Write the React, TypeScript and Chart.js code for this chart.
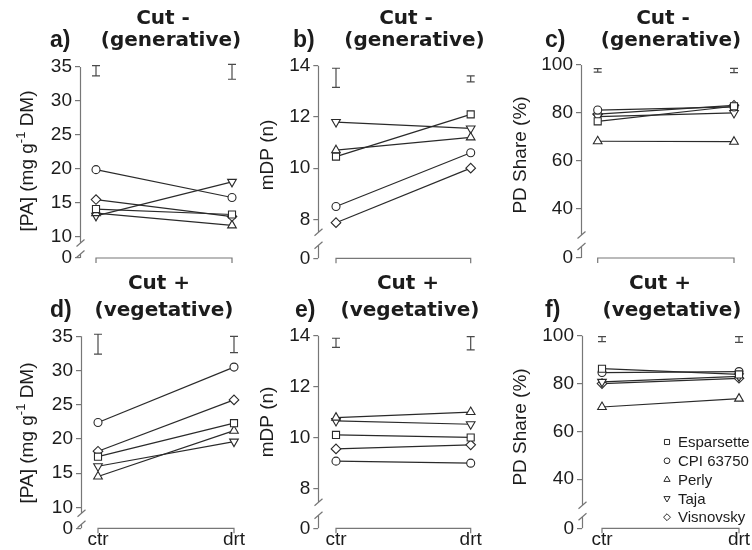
import React, { useEffect, useRef } from 'react';
import { Chart, registerables, PointElement } from 'chart.js';

Chart.register(...registerables);

// ---------------- data ----------------
const CULTIVARS = ['Esparsette', 'CPI 63750', 'Perly', 'Taja', 'Visnovsky'];
const TREATMENTS = ['ctr', 'drt'];

// a) [PA], Cut - (generative)
const PA_GEN_CTR = [14.1, 19.9, 13.5, 13.1, 15.5];
const PA_GEN_DRT = [13.3, 15.8, 11.7, 18.1, 13.0];
const PA_GEN_ERR_LO = [33.7, 33.2];
const PA_GEN_ERR_HI = [35.2, 35.4];
// b) mDP, Cut - (generative)
const MDP_GEN_CTR = [10.45, 8.5, 10.7, 11.8, 7.87];
const MDP_GEN_DRT = [12.1, 10.6, 11.2, 11.55, 10.0];
const MDP_GEN_ERR_LO = [13.15, 13.37];
const MDP_GEN_ERR_HI = [13.9, 13.6];
// c) PD share, Cut - (generative)
const PD_GEN_CTR = [76.5, 81.2, 68.2, 78.5, 79.5];
const PD_GEN_DRT = [82.8, 82.5, 68.0, 80.0, 83.2];
const PD_GEN_ERR_LO = [97.0, 96.8];
const PD_GEN_ERR_HI = [98.5, 98.6];
// d) [PA], Cut + (vegetative)
const PA_VEG_CTR = [17.4, 22.4, 14.5, 16.0, 18.2];
const PA_VEG_DRT = [22.3, 30.5, 21.2, 19.6, 25.7];
const PA_VEG_ERR_LO = [32.4, 32.6];
const PA_VEG_ERR_HI = [35.3, 35.0];
// e) mDP, Cut + (vegetative)
const MDP_VEG_CTR = [10.1, 9.07, 10.78, 10.65, 9.55];
const MDP_VEG_DRT = [10.0, 8.99, 11.0, 10.52, 9.71];
const MDP_VEG_ERR_LO = [13.54, 13.44];
const MDP_VEG_ERR_HI = [13.9, 13.96];
// f) PD share, Cut + (vegetative)
const PD_VEG_CTR = [86.2, 84.6, 70.2, 80.7, 80.0];
const PD_VEG_DRT = [83.8, 85.0, 73.7, 83.0, 82.2];
const PD_VEG_ERR_LO = [97.5, 97.2];
const PD_VEG_ERR_HI = [99.6, 99.6];

const PA_TICKS = [10, 15, 20, 25, 30, 35];
const MDP_TICKS = [8, 10, 12, 14];
const PD_TICKS = [40, 60, 80, 100];
const BREAK_LABEL = '0';

const Y_TITLE_PA = ['[PA] (mg g', '-1', ' DM)'];
const Y_TITLE_MDP = ['mDP (n)'];
const Y_TITLE_PD = ['PD Share (%)'];

// ---------------- styles ----------------
const AXIS = '#777777';
const LINE = '#2a2a2a';
const ERR = '#4a4a4a';
const TEXT = '#1c1c1c';
const SANS = "'Liberation Sans', Arial, sans-serif";
const TITLE_FONT = "bold 20px 'DejaVu Sans', Verdana, sans-serif";
const LETTER_FONT = `bold 23px ${SANS}`;
const CANVAS_W = 272;
const CANVAS_H = 280;

const MARKERS = [
  { style: 'rect', radius: 5, rotation: 0 },
  { style: 'circle', radius: 4, rotation: 0 },
  { style: 'triangle', radius: 5, rotation: 0 },
  { style: 'triangle', radius: 5, rotation: 180 },
  { style: 'rectRot', radius: 4.8, rotation: 0 },
];

type Panel = {
  key: string; letter: string; t1: string; t2: string; yTitle: string[];
  ticks: number[]; axisMin: number; ctr: number[]; drt: number[]; lo: number[]; hi: number[];
  left: number; top: number; axisX: number; ctrX: number; drtX: number; topY: number; botY: number;
  gaps: number[]; showX: boolean; yTitleX: number; yTitleY: number;
  t1X: number; t2X: number; t1Y: number; t2Y: number; letterX: number; legend: boolean;
};

const PANELS: Panel[] = [
  { key: 'a', letter: 'a)', t1: 'Cut -', t2: '(generative)', yTitle: Y_TITLE_PA, ticks: PA_TICKS, axisMin: 6.9,
    ctr: PA_GEN_CTR, drt: PA_GEN_DRT, lo: PA_GEN_ERR_LO, hi: PA_GEN_ERR_HI,
    left: 0, top: 0, axisX: 80, ctrX: 96, drtX: 232, topY: 67, botY: 258, gaps: [15, 4], showX: false,
    yTitleX: 27.5, yTitleY: 161, t1X: 163, t2X: 171, t1Y: 19, t2Y: 41, letterX: 50, legend: false },
  { key: 'b', letter: 'b)', t1: 'Cut -', t2: '(generative)', yTitle: Y_TITLE_MDP, ticks: MDP_TICKS, axisMin: 6.48,
    ctr: MDP_GEN_CTR, drt: MDP_GEN_DRT, lo: MDP_GEN_ERR_LO, hi: MDP_GEN_ERR_HI,
    left: 250, top: 0, axisX: 68.3, ctrX: 86, drtX: 220.7, topY: 65.7, botY: 258.3, gaps: [26, 13], showX: false,
    yTitleX: 17.5, yTitleY: 155, t1X: 156, t2X: 164.5, t1Y: 19, t2Y: 41, letterX: 43, legend: false },
  { key: 'c', letter: 'c)', t1: 'Cut -', t2: '(generative)', yTitle: Y_TITLE_PD, ticks: PD_TICKS, axisMin: 19.5,
    ctr: PD_GEN_CTR, drt: PD_GEN_DRT, lo: PD_GEN_ERR_LO, hi: PD_GEN_ERR_HI,
    left: 500, top: 0, axisX: 81, ctrX: 97.7, drtX: 234, topY: 65, botY: 258, gaps: [23, 11.5], showX: false,
    yTitleX: 20.5, yTitleY: 155, t1X: 163, t2X: 171, t1Y: 19, t2Y: 41, letterX: 45, legend: false },
  { key: 'd', letter: 'd)', t1: 'Cut +', t2: '(vegetative)', yTitle: Y_TITLE_PA, ticks: PA_TICKS, axisMin: 6.93,
    ctr: PA_VEG_CTR, drt: PA_VEG_DRT, lo: PA_VEG_ERR_LO, hi: PA_VEG_ERR_HI,
    left: 0, top: 270, axisX: 81, ctrX: 98, drtX: 234, topY: 66.3, botY: 258.3, gaps: [15, 4], showX: true,
    yTitleX: 27.5, yTitleY: 163, t1X: 159, t2X: 164, t1Y: 14, t2Y: 41, letterX: 50, legend: false },
  { key: 'e', letter: 'e)', t1: 'Cut +', t2: '(vegetative)', yTitle: Y_TITLE_MDP, ticks: MDP_TICKS, axisMin: 6.43,
    ctr: MDP_VEG_CTR, drt: MDP_VEG_DRT, lo: MDP_VEG_ERR_LO, hi: MDP_VEG_ERR_HI,
    left: 250, top: 270, axisX: 68.3, ctrX: 86, drtX: 220.7, topY: 65.7, botY: 258.3, gaps: [26, 13], showX: true,
    yTitleX: 17.5, yTitleY: 152, t1X: 158, t2X: 160, t1Y: 14, t2Y: 41, letterX: 45, legend: false },
  { key: 'f', letter: 'f)', t1: 'Cut +', t2: '(vegetative)', yTitle: Y_TITLE_PD, ticks: PD_TICKS, axisMin: 19.5,
    ctr: PD_VEG_CTR, drt: PD_VEG_DRT, lo: PD_VEG_ERR_LO, hi: PD_VEG_ERR_HI,
    left: 500, top: 270, axisX: 82, ctrX: 102, drtX: 239, topY: 65.7, botY: 258.3, gaps: [23, 11.5], showX: true,
    yTitleX: 20.5, yTitleY: 157, t1X: 160, t2X: 172, t1Y: 14, t2Y: 41, letterX: 45, legend: true },
];

const LEG_X = 167;
const LEG_Y0 = 172;
const LEG_DY = 18.8;

function makeDecor(p: Panel) {
  return {
    id: 'decor' + p.key,
    beforeDatasetsDraw(chart: any) {
      const ctx = chart.ctx as CanvasRenderingContext2D;
      const xs = chart.scales.x;
      const ys = chart.scales.y;
      const ax = Math.round(chart.chartArea.left) + 0.5;
      const top = ys.getPixelForValue(ys.max);
      const bot = ys.getPixelForValue(ys.min);
      ctx.save();
      ctx.strokeStyle = AXIS;
      ctx.lineWidth = 1.2;
      ctx.beginPath();
      ctx.moveTo(ax, top);
      ctx.lineTo(ax, bot - p.gaps[0]);
      ctx.moveTo(ax, bot - p.gaps[1]);
      ctx.lineTo(ax, bot);
      for (const g of p.gaps) {
        ctx.moveTo(ax - 4, bot - g + 3.5);
        ctx.lineTo(ax + 4, bot - g - 3.5);
      }
      const x0 = xs.getPixelForValue(0);
      const x1 = xs.getPixelForValue(1);
      ctx.moveTo(x0, bot + 5);
      ctx.lineTo(x0, bot);
      ctx.lineTo(x1, bot);
      ctx.lineTo(x1, bot + 5);
      ctx.stroke();

      // error bars
      ctx.strokeStyle = ERR;
      ctx.lineWidth = 1.2;
      ctx.beginPath();
      TREATMENTS.forEach((_, i) => {
        const x = xs.getPixelForValue(i);
        const yl = ys.getPixelForValue(p.lo[i]);
        const yh = ys.getPixelForValue(p.hi[i]);
        ctx.moveTo(x, yl);
        ctx.lineTo(x, yh);
        ctx.moveTo(x - 4, yl);
        ctx.lineTo(x + 4, yl);
        ctx.moveTo(x - 4, yh);
        ctx.lineTo(x + 4, yh);
      });
      ctx.stroke();
      ctx.restore();
    },
    afterDraw(chart: any) {
      const ctx = chart.ctx as CanvasRenderingContext2D;
      ctx.save();
      ctx.fillStyle = TEXT;
      ctx.textBaseline = 'middle';
      // titles
      ctx.font = TITLE_FONT;
      ctx.textAlign = 'center';
      ctx.fillText(p.t1, p.t1X, p.t1Y);
      ctx.fillText(p.t2, p.t2X, p.t2Y);
      ctx.font = LETTER_FONT;
      ctx.textAlign = 'left';
      ctx.fillText(p.letter, p.letterX, p.t2Y);

      // y title (rotated, optional superscript)
      ctx.save();
      ctx.translate(p.yTitleX, p.yTitleY);
      ctx.rotate(-Math.PI / 2);
      const mainFont = `19px ${SANS}`;
      const supFont = `13px ${SANS}`;
      const widths = p.yTitle.map((t, i) => {
        ctx.font = i === 1 ? supFont : mainFont;
        return ctx.measureText(t).width;
      });
      const total = widths.reduce((a, b) => a + b, 0);
      let cx = -total / 2;
      p.yTitle.forEach((t, i) => {
        ctx.font = i === 1 ? supFont : mainFont;
        ctx.textAlign = 'left';
        ctx.fillText(t, cx, i === 1 ? -6 : 0);
        cx += widths[i];
      });
      ctx.restore();

      // legend
      if (p.legend) {
        const area = { left: -10000, top: -10000, right: 10000, bottom: 10000 };
        ctx.font = `15px ${SANS}`;
        ctx.textAlign = 'left';
        CULTIVARS.forEach((name, i) => {
          const y = LEG_Y0 + i * LEG_DY;
          const m = MARKERS[i];
          const pt: any = new (PointElement as any)({
            x: LEG_X, y,
            options: { pointStyle: m.style, radius: m.radius * 0.72, rotation: m.rotation,
              borderColor: LINE, backgroundColor: '#ffffff', borderWidth: 1 },
          });
          pt.draw(ctx, area);
          ctx.fillStyle = TEXT;
          ctx.fillText(name, LEG_X + 11, y + 1);
        });
      }
      ctx.restore();
    },
  };
}

function buildConfig(p: Panel): any {
  const span = p.drtX - p.ctrX;
  const rightX = p.drtX + 22;
  const xMin = -(p.ctrX - p.axisX) / span;
  const xMax = 1 + (rightX - p.drtX) / span;
  const yMax = p.ticks[p.ticks.length - 1];
  const xHeight = p.showX ? CANVAS_H - p.botY : 0;
  return {
    type: 'line',
    data: {
      datasets: CULTIVARS.map((name, i) => ({
        label: name,
        data: [{ x: 0, y: p.ctr[i] }, { x: 1, y: p.drt[i] }],
        borderColor: LINE,
        borderWidth: 1.2,
        backgroundColor: '#ffffff',
        pointStyle: MARKERS[i].style,
        pointRadius: MARKERS[i].radius,
        pointRotation: MARKERS[i].rotation,
        pointBackgroundColor: '#ffffff',
        pointBorderColor: LINE,
        pointBorderWidth: 1.1,
        tension: 0,
        clip: false,
      })),
    },
    options: {
      responsive: false,
      animation: false,
      events: [],
      layout: {
        padding: { left: 0, top: p.topY, right: CANVAS_W - rightX, bottom: CANVAS_H - p.botY - xHeight },
      },
      plugins: { legend: { display: false }, tooltip: { enabled: false }, title: { display: false } },
      scales: {
        x: {
          type: 'linear',
          display: p.showX,
          min: xMin,
          max: xMax,
          afterBuildTicks: (s: any) => { s.ticks = TREATMENTS.map((_, i) => ({ value: i })); },
          afterFit: (s: any) => { s.height = xHeight; },
          border: { display: false },
          grid: { display: false, drawTicks: false, tickLength: 0 },
          ticks: {
            autoSkip: false, maxRotation: 0, minRotation: 0, padding: 0, color: TEXT,
            font: { family: SANS, size: 19 },
            callback: (v: number) => TREATMENTS[v] ?? '',
          },
        },
        y: {
          type: 'linear',
          min: p.axisMin,
          max: yMax,
          afterBuildTicks: (s: any) => { s.ticks = [p.axisMin, ...p.ticks].map((v) => ({ value: v })); },
          afterFit: (s: any) => { s.width = p.axisX; },
          border: { display: false },
          grid: { display: true, drawOnChartArea: false, drawTicks: true, tickLength: 5, color: AXIS, lineWidth: 1.2 },
          ticks: {
            autoSkip: false, padding: 3, color: TEXT,
            font: { family: SANS, size: 19 },
            callback: (v: number) => (v === p.axisMin ? BREAK_LABEL : String(v)),
          },
        },
      },
    },
    plugins: [makeDecor(p)],
  };
}

function PanelChart({ p }: { p: Panel }) {
  const ref = useRef<HTMLCanvasElement>(null);
  useEffect(() => {
    if (!ref.current) return;
    const chart = new Chart(ref.current, buildConfig(p));
    return () => chart.destroy();
  }, [p]);
  return (
    <canvas
      ref={ref}
      width={CANVAS_W}
      height={CANVAS_H}
      style={{ position: 'absolute', left: p.left, top: p.top, width: CANVAS_W, height: CANVAS_H }}
    />
  );
}

export default function App() {
  return (
    <div style={{ position: 'absolute', left: 0, top: 0, width: 752, height: 550, overflow: 'hidden', background: '#ffffff' }}>
      {PANELS.map((p) => (
        <PanelChart key={p.key} p={p} />
      ))}
    </div>
  );
}
